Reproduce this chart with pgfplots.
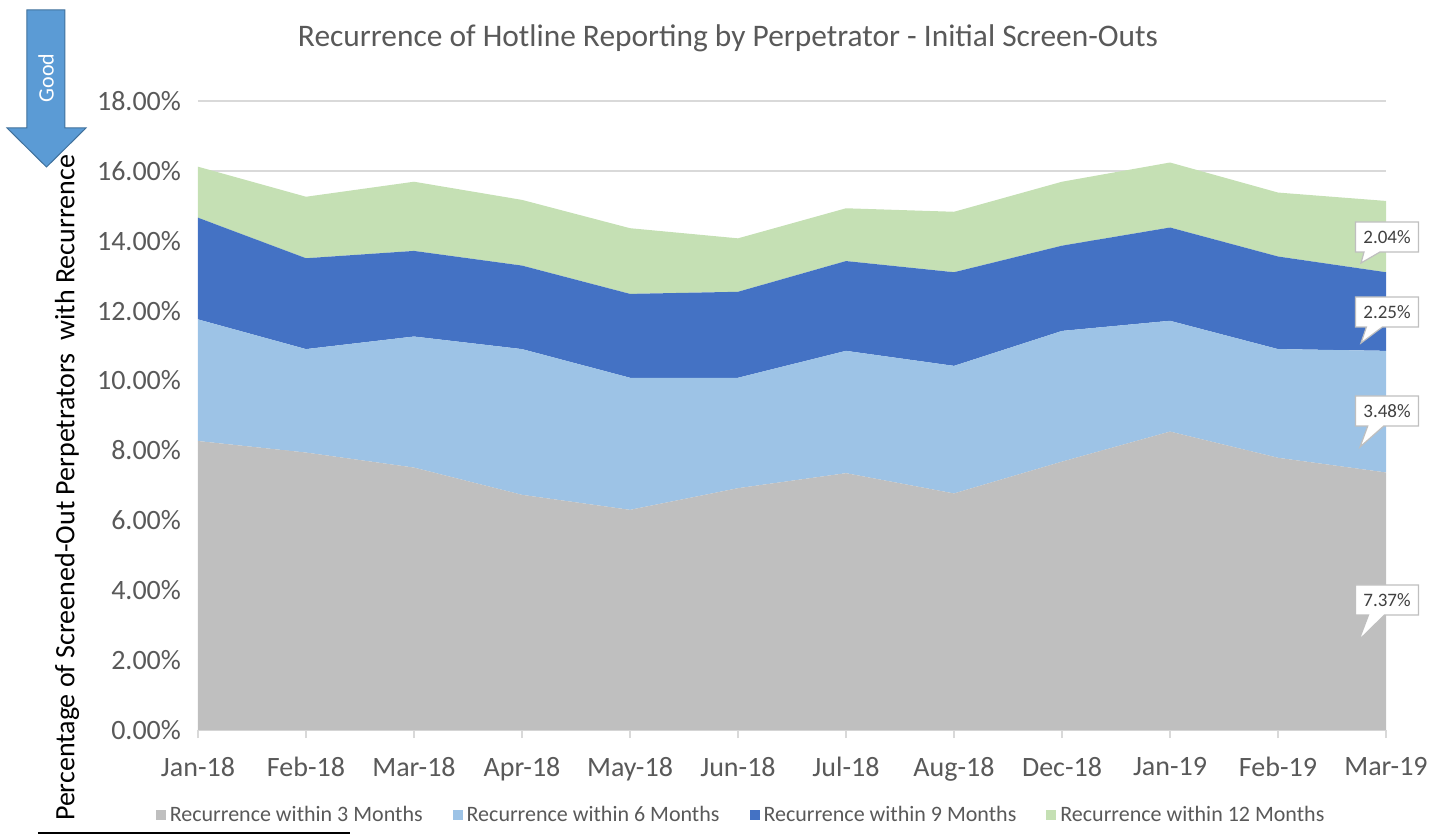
\documentclass[border=0pt]{standalone}
\usepackage{pgfplots}
\pgfplotsset{compat=1.18}
\usepackage{fontspec}
\setmainfont{Carlito}
\usetikzlibrary{shapes.callouts}
\definecolor{cthree}{HTML}{BFBFBF}
\definecolor{csix}{HTML}{9DC3E6}
\definecolor{cnine}{HTML}{4472C4}
\definecolor{ctwelve}{HTML}{C5E0B4}
\definecolor{tickgray}{HTML}{595959}
\definecolor{gridgray}{HTML}{D9D9D9}
\definecolor{boxgray}{HTML}{BFBFBF}
\definecolor{labelgray}{HTML}{404040}
\definecolor{arrowblue}{HTML}{5B9BD5}
\definecolor{arrowedge}{HTML}{41719C}
\begin{document}
\begin{tikzpicture}
\useasboundingbox (-99pt,-52.5pt) rectangle (623.5pt,365pt);
\begin{axis}[
  scale only axis, width=594pt, height=314.5pt,
  xmin=0, xmax=11, ymin=0, ymax=18,
  stack plots=y,
  axis lines*=left,
  y axis line style={draw=none},
  x axis line style={draw=gridgray, line width=0.8pt},
  xtick={0,1,2,3,4,5,6,7,8,9,10,11},
  xticklabels={Jan-18,Feb-18,Mar-18,Apr-18,May-18,Jun-18,Jul-18,Aug-18,Dec-18,Jan-19,Feb-19,Mar-19},
  ytick={0,2,4,6,8,10,12,14,16,18},
  /pgf/number format/assume math mode=true,
  yticklabel={\pgfmathprintnumber[fixed,fixed zerofill,precision=2]{\tick}\%},
  ymajorgrids,
  grid style={draw=gridgray, line width=0.8pt},
  ytick style={draw=none},
  xtick style={draw=gridgray, line width=0.8pt},
  xtick align=outside,
  major tick length=4pt,
  tick label style={font=\fontsize{14}{16}\selectfont, text=tickgray},
  yticklabel shift=5pt,
  xticklabel shift=6pt,
  legend style={at={(0.458,-0.135)}, anchor=center, draw=none, fill=none,
    legend columns=4, font=\fontsize{11}{13}\selectfont, text=tickgray,
    /tikz/every even column/.append style={column sep=13pt},
    inner sep=0pt},
  legend cell align=left,
  legend image code/.code={\fill[#1] (1pt,-2.6pt) rectangle (6pt,2.6pt);},
]
\addplot[fill=cthree, draw=none] coordinates {
 (0,8.27) (1,7.94) (2,7.51) (3,6.73) (4,6.30) (5,6.92) (6,7.35) (7,6.77) (8,7.68) (9,8.54) (10,7.79) (11,7.37)} \closedcycle;
\addlegendentry{Recurrence within 3 Months}
\addplot[fill=csix, draw=none] coordinates {
 (0,3.48) (1,2.96) (2,3.75) (3,4.17) (4,3.78) (5,3.16) (6,3.50) (7,3.65) (8,3.74) (9,3.17) (10,3.11) (11,3.48)} \closedcycle;
\addlegendentry{Recurrence within 6 Months}
\addplot[fill=cnine, draw=none] coordinates {
 (0,2.91) (1,2.60) (2,2.45) (3,2.39) (4,2.40) (5,2.46) (6,2.57) (7,2.68) (8,2.44) (9,2.67) (10,2.65) (11,2.25)} \closedcycle;
\addlegendentry{Recurrence within 9 Months}
\addplot[fill=ctwelve, draw=none] coordinates {
 (0,1.46) (1,1.76) (2,1.98) (3,1.88) (4,1.88) (5,1.53) (6,1.51) (7,1.73) (8,1.83) (9,1.86) (10,1.83) (11,2.04)} \closedcycle;
\addlegendentry{Recurrence within 12 Months}
\end{axis}
% title
\node[font=\fontsize{15.7}{18}\selectfont, text=tickgray] at (265pt,346pt) {Recurrence of Hotline Reporting by Perpetrator - Initial Screen-Outs};
% y label
\node[rotate=90, font=\fontsize{14}{16}\selectfont, text=black] at (-65.5pt,121pt) {Percentage of Screened-Out Perpetrators\ \ with Recurrence};
% Good arrow
\filldraw[fill=arrowblue, draw=arrowedge, line width=0.5pt]
  (-85.5pt,360pt) -- (-66.5pt,360pt) -- (-66.5pt,301pt) -- (-56pt,301pt)
  -- (-75.75pt,281.5pt) -- (-95.5pt,301pt) -- (-85.5pt,301pt) -- cycle;
\node[rotate=90, text=white, font=\fontsize{11}{13}\selectfont] at (-76pt,326pt) {Good};
% callouts
\tikzset{cl/.style={rectangle callout, draw=boxgray, fill=white, line width=0.6pt,
  minimum width=31.5pt, minimum height=15pt, inner sep=1pt, callout pointer width=8pt,
  font=\fontsize{9.5}{11}\selectfont, text=labelgray}}
\node[cl, callout absolute pointer={(581.5pt,233.5pt)}] at (594.5pt,246.5pt) {2.04\%};
\node[cl, callout absolute pointer={(581.5pt,193.5pt)}] at (594.5pt,209pt) {2.25\%};
\node[cl, callout absolute pointer={(581pt,141.5pt)}] at (594.5pt,159.5pt) {3.48\%};
\node[cl, callout absolute pointer={(580.5pt,45pt)}] at (594.5pt,65pt) {7.37\%};
% bottom black line
\draw[black, line width=1pt] (-80pt,-51.5pt) -- (76pt,-51.5pt);
\end{tikzpicture}
\end{document}
